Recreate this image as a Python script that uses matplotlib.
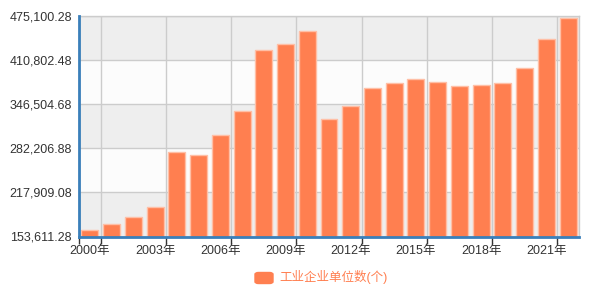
import numpy as np
import matplotlib
matplotlib.use('Agg')
import matplotlib.pyplot as plt
from matplotlib.patches import FancyBboxPatch

plt.rcParams['font.family'] = ['Liberation Sans', 'Noto Sans CJK SC', 'DejaVu Sans']

years = [f"{y}年" for y in range(2000, 2023)]
values = [162885, 171256, 181557, 196222, 276474, 271835, 301961, 336768,
          426113, 434364, 452872, 325609, 343769, 369813, 377888, 383148,
          378599, 372729, 374964, 377815, 399375, 441517, 472009]
y_ticks = [153611.28, 217909.08, 282206.88, 346504.68, 410802.48, 475100.28]
series_name = "工业企业单位数(个)"

bar_color = '#ff7f50'
axis_blue = '#3a7fba'

fig = plt.figure(figsize=(5.99, 3.01), dpi=100)
ax = fig.add_axes([79 / 599, 1 - 236.5 / 301, 500 / 599, 220.5 / 301])

x = np.arange(len(years))
ax.set_xlim(-0.5, len(years) - 0.5)
ax.set_ylim(y_ticks[0], y_ticks[-1])

# alternating background bands
for i in range(len(y_ticks) - 1):
    ax.axhspan(y_ticks[i], y_ticks[i + 1],
               color='#eeeeee' if i % 2 == 0 else '#fcfcfc', zorder=0, lw=0)

ax.bar(x, values, width=0.78, color=bar_color, edgecolor='#ffbfa6',
       linewidth=1, zorder=3)

# grid
ax.set_yticks(y_ticks)
ax.set_yticklabels([f"{v:,.2f}" for v in y_ticks])
ax.yaxis.grid(True, color='#cccccc', lw=1, zorder=1)
bounds = [-0.5] + [i + 0.5 for i in range(0, len(years), 3)]
ax.set_xticks(bounds)
ax.set_xticklabels([])
ax.xaxis.grid(True, color='#cccccc', lw=1, zorder=1)
ax.set_xticks(x[::3], minor=True)
ax.set_xticklabels([years[i] for i in range(0, len(years), 3)], minor=True)
ax.set_axisbelow(True)

ax.tick_params(axis='x', which='major', length=5, width=1, color='#333333', direction='out')
ax.tick_params(axis='x', which='minor', length=0, pad=6, labelsize=9, labelcolor='#333333')
ax.tick_params(axis='y', length=0, pad=5, labelsize=9, labelcolor='#333333')

for side in ['top', 'right']:
    ax.spines[side].set_color('#cccccc')
    ax.spines[side].set_linewidth(1)
for side in ['left', 'bottom']:
    ax.spines[side].set_color(axis_blue)
    ax.spines[side].set_linewidth(2)
    ax.spines[side].set_zorder(5)

# legend
fig.patches.append(FancyBboxPatch((255 / 599, 1 - 283.5 / 301), 18 / 599, 11 / 301,
                                  boxstyle='round,pad=0,rounding_size=0.006',
                                  transform=fig.transFigure, color=bar_color))
fig.text(279 / 599, 1 - 277.5 / 301, series_name, color=bar_color, fontsize=9,
         va='center', ha='left')

fig.savefig('out.png', dpi=100)
plt.close(fig)
